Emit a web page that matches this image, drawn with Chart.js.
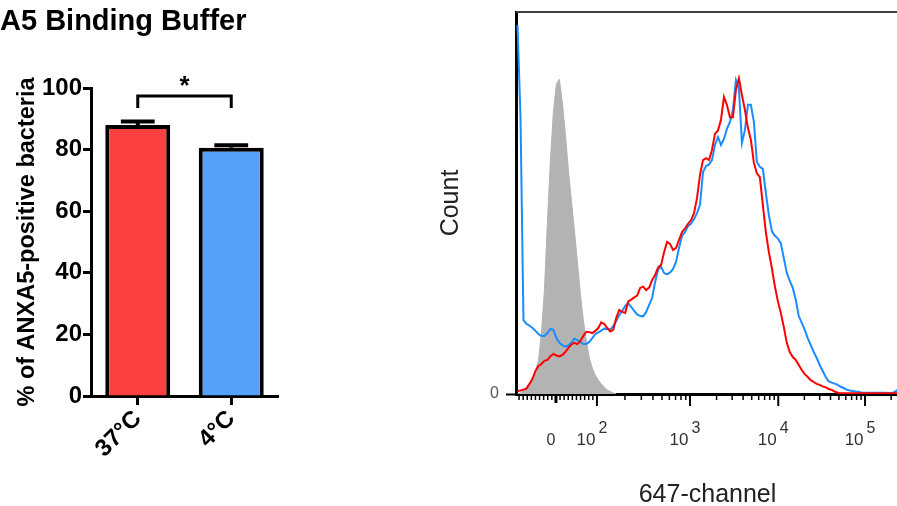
<!DOCTYPE html>
<html>
<head>
<meta charset="utf-8">
<script src="https://cdn.jsdelivr.net/npm/chart.js@4.4.1/dist/chart.umd.min.js"></script>
<style>
  html, body { margin: 0; padding: 0; background: #fff; }
  body { width: 897px; height: 506px; overflow: hidden; position: relative; }
  #barChart { position: absolute; left: 0; top: 0; }
  #histChart { position: absolute; left: 430px; top: 0; }
</style>
</head>
<body>
<canvas id="barChart" width="300" height="506"></canvas>
<canvas id="histChart" width="472" height="512"></canvas>
<script>
const FONT = "'Liberation Sans', Arial, Helvetica, sans-serif";

// ---- bar panel ----
const barTitle = "A5 Binding Buffer";
const groups = ["37°C", "4°C"];
const positivePct = [88.0, 80.6];
const positiveSem = [1.1, 0.8];
const barColors = ["#fa4040", "#55a0fa"];
const yTicksPct = [0, 20, 40, 60, 80, 100];
const sigLabel = "*";
const sigBracket = [97.4, 93.5];   // bracket bar level, leg ends

// ---- histogram panel (display channels, bins 2 channels wide, % of mode) ----
const channelStep = 2;
const isotypeCounts = [
  0, 0.3, 1.0, 2.2, 3.2, 4.4, 7.3, 10.5, 19.3, 32.9, 54.5, 74.1, 89.4, 98.2, 99.7, 92.2,
  82.4, 71.0, 61.5, 52.0, 42.1, 32.0, 23.4, 17.0, 11.4, 8.2, 6.0, 4.4, 3.2, 2.2, 1.3, 0.8,
  0.3, 0
];
const warmCounts = [   // 37°C
  0.95, 1.1, 1.4, 1.7, 3.2, 4.8, 7.3, 8.9, 9.5, 10.5, 10.8, 12.0, 12.7, 12.2, 11.9, 12.4,
  13.3, 14.6, 15.7, 16.2, 15.8, 16.8, 18.4, 19.7, 19.6, 19.3, 20.0, 20.9, 22.7, 22.2, 20.9, 19.8,
  20.3, 24.1, 26.6, 26.0, 25.7, 29.3, 29.9, 30.6, 31.2, 33.6, 34.0, 32.9, 33.7, 36.1, 37.7, 40.1,
  40.9, 45.0, 48.2, 47.5, 45.6, 46.3, 48.8, 51.3, 52.5, 53.9, 55.1, 57.3, 62.1, 69.4, 74.1, 74.7,
  74.1, 77.3, 82.4, 83.5, 86.8, 94.1, 91.5, 87.7, 87.7, 96.3, 100, 94.7, 90.0, 84.3, 80.5, 73.2,
  69.9, 68.7, 59.9, 51.3, 45.0, 39.9, 34.2, 29.5, 25.7, 21.2, 16.2, 13.3, 11.7, 10.8, 9.2, 7.6,
  6.3, 5.4, 4.4, 3.8, 3.2, 2.9, 2.4, 2.1, 1.6, 1.3, 0.8, 0.4, 0.2, 0.2, 0.2, 0.2,
  0.2, 0.2, 0.2, 0.2, 0.2, 0.2, 0.2, 0.2, 0.2, 0.2, 0.2, 0.2, 0.2, 0.2, 0.2, 0.2, 0.2
];
const coldCounts = [   // 4°C
  116.9, 87.8, 23.4, 22.2, 21.7, 20.9, 20.0, 19.0, 18.4, 18.4, 19.3, 20.6, 20.3, 17.7, 16.2, 15.5,
  15.0, 15.4, 16.2, 17.6, 17.1, 16.5, 15.8, 15.8, 16.5, 17.7, 19.0, 19.5, 20.1, 20.7, 20.6, 20.4,
  21.5, 23.1, 24.9, 26.3, 27.9, 28.7, 27.6, 26.3, 25.2, 24.7, 24.6, 26.0, 28.2, 30.4, 35.5, 39.4,
  40.3, 38.3, 37.9, 38.5, 39.6, 41.9, 46.3, 50.1, 51.3, 53.2, 53.9, 55.4, 57.3, 59.9, 70.3, 72.2,
  72.7, 74.1, 78.9, 81.4, 78.9, 80.8, 84.0, 86.2, 90.0, 99.5, 96.9, 79.5, 83.6, 91.6, 91.6, 86.2,
  73.5, 72.0, 71.3, 63.6, 56.7, 51.6, 50.1, 49.3, 47.8, 43.1, 38.3, 35.8, 33.6, 29.8, 24.7, 22.5,
  20.3, 17.7, 15.5, 13.3, 11.4, 9.2, 7.3, 5.4, 4.0, 3.6, 3.3, 2.9, 2.3, 1.9, 1.4, 1.1,
  0.95, 0.8, 0.7, 0.4, 0.4, 0.4, 0.4, 0.4, 0.4, 0.4, 0.4, 0.4, 0.3, 0.3, 0.6, 1.3, 1.6
];
// biexponential axis: where zero and each decade sit on the display channel scale
const zeroChannel = 26.7;
const decadeChannels = [54.1, 116.3, 175.3, 233.3];
const decadeExponents = ["2", "3", "4", "5"];

const toPoints = arr => arr.map((v, i) => ({ x: i * channelStep + channelStep / 2, y: v }));

// error bars (upper SEM) and the significance bracket
const errorBars = {
  id: 'errorBars',
  afterDatasetsDraw(chart) {
    const { ctx, scales: { y } } = chart;
    const bars = chart.getDatasetMeta(0).data;
    ctx.save();
    ctx.strokeStyle = '#000';
    ctx.lineWidth = 4;
    bars.forEach((bar, i) => {
      const top = y.getPixelForValue(positivePct[i] + positiveSem[i]);
      const half = bar.width * 0.26;
      ctx.beginPath();
      ctx.moveTo(bar.x, bar.y);
      ctx.lineTo(bar.x, top);
      ctx.moveTo(bar.x - half, top);
      ctx.lineTo(bar.x + half, top);
      ctx.stroke();
    });
    const x1 = bars[0].x, x2 = bars[1].x;
    const yb = y.getPixelForValue(sigBracket[0]);
    const yl = y.getPixelForValue(sigBracket[1]);
    ctx.lineWidth = 3;
    ctx.lineJoin = 'miter';
    ctx.beginPath();
    ctx.moveTo(x1, yl);
    ctx.lineTo(x1, yb);
    ctx.lineTo(x2, yb);
    ctx.lineTo(x2, yl);
    ctx.stroke();
    ctx.fillStyle = '#000';
    ctx.font = `bold 26px ${FONT}`;
    ctx.textAlign = 'center';
    ctx.textBaseline = 'alphabetic';
    ctx.fillText(sigLabel, (x1 + x2) / 2, yb - 2);
    ctx.restore();
  }
};

new Chart(document.getElementById('barChart'), {
  type: 'bar',
  data: {
    labels: groups,
    datasets: [{
      data: positivePct,
      backgroundColor: barColors,
      borderColor: '#000',
      borderWidth: 4,
      barPercentage: 0.695,
      categoryPercentage: 1
    }]
  },
  options: {
    responsive: false,
    animation: false,
    layout: { padding: { left: 0, right: 22, top: 0, bottom: 0 } },
    plugins: {
      legend: { display: false },
      tooltip: { enabled: false },
      title: {
        display: true,
        text: barTitle,
        align: 'start',
        color: '#000',
        font: { family: FONT, size: 29, weight: 'bold' },
        padding: { top: 5, bottom: 48.2 }
      }
    },
    scales: {
      x: {
        afterFit: s => { s.height = 110; },
        ticks: {
          color: '#000',
          font: { family: FONT, size: 24, weight: 'bold' },
          minRotation: 45, maxRotation: 45, padding: 0
        },
        grid: { offset: false, drawOnChartArea: false, tickLength: 9, tickWidth: 3, tickColor: '#000' },
        border: { color: '#000', width: 3 }
      },
      y: {
        min: 0, max: 100,
        afterFit: s => { s.width = 91; },
        afterBuildTicks: s => { s.ticks = yTicksPct.map(v => ({ value: v })); },
        ticks: { color: '#000', font: { family: FONT, size: 24, weight: 'bold' }, padding: 1 },
        grid: { drawOnChartArea: false, tickLength: 8, tickWidth: 3, tickColor: '#000' },
        border: { color: '#000', width: 3 },
        title: {
          display: true,
          text: '% of ANXA5-positive bacteria',
          color: '#000',
          font: { family: FONT, size: 23.5, weight: 'bold' },
          padding: { top: 13, bottom: 0 }
        }
      }
    }
  },
  plugins: [errorBars]
});

// logicle-style tick marks, decade labels and the top frame line
const flowAxis = {
  id: 'flowAxis',
  afterDraw(chart) {
    const { ctx, chartArea, scales: { x } } = chart;
    const base = chartArea.bottom + 1;
    const linSpan = decadeChannels[0] - zeroChannel;
    const marks = [];
    for (let k = -10; k <= 9; k++) {
      marks.push({ v: zeroChannel + k * linSpan / 10, len: k === 0 ? 8 : 5, w: k === 0 ? 3 : 1.5 });
    }
    decadeChannels.forEach((c, i) => {
      const next = i + 1 < decadeChannels.length ? decadeChannels[i + 1] : c + (c - decadeChannels[i - 1]);
      marks.push({ v: c, len: 11, w: 2 });
      for (let k = 2; k <= 9; k++) marks.push({ v: c + Math.log10(k) * (next - c), len: 5, w: 1.5 });
    });
    ctx.save();
    ctx.strokeStyle = '#000';
    marks.forEach(m => {
      if (m.v < x.min || m.v > x.max) return;
      const px = x.getPixelForValue(m.v);
      ctx.lineWidth = m.w;
      ctx.beginPath();
      ctx.moveTo(px, base);
      ctx.lineTo(px, base + m.len);
      ctx.stroke();
    });

    const labelY = chartArea.bottom + 51;
    ctx.fillStyle = '#333';
    ctx.textBaseline = 'alphabetic';
    ctx.textAlign = 'center';
    ctx.font = `16px ${FONT}`;
    ctx.fillText('0', x.getPixelForValue(zeroChannel) - 5, labelY);
    ctx.textAlign = 'left';
    decadeExponents.forEach((e, i) => {
      const px = x.getPixelForValue(decadeChannels[i]);
      ctx.font = `17px ${FONT}`;
      const baseW = ctx.measureText('10').width;
      ctx.font = `16px ${FONT}`;
      const supW = ctx.measureText(e).width;
      const left = px - 5 - (baseW + 3 + supW) / 2;
      ctx.font = `17px ${FONT}`;
      ctx.fillText('10', left, labelY);
      ctx.font = `16px ${FONT}`;
      ctx.fillText(e, left + baseW + 3, labelY - 12);
    });

    ctx.strokeStyle = '#404040';
    ctx.lineWidth = 2;
    ctx.beginPath();
    ctx.moveTo(chartArea.left, chartArea.top);
    ctx.lineTo(chartArea.right, chartArea.top);
    ctx.stroke();
    ctx.restore();
  }
};

new Chart(document.getElementById('histChart'), {
  type: 'line',
  data: {
    datasets: [
      { data: toPoints(warmCounts), borderColor: '#ff0000', borderWidth: 2, pointRadius: 0, fill: false, order: 0 },
      { data: toPoints(coldCounts), borderColor: '#1a8cff', borderWidth: 2, pointRadius: 0, fill: false, order: 1 },
      { data: toPoints(isotypeCounts), borderColor: '#b3b3b3', backgroundColor: '#b3b3b3', borderWidth: 1, pointRadius: 0, fill: 'origin', order: 2 }
    ]
  },
  options: {
    responsive: false,
    animation: false,
    layout: { padding: { left: 2, right: 3, top: 12, bottom: 0 } },
    plugins: { legend: { display: false }, tooltip: { enabled: false } },
    scales: {
      x: {
        type: 'linear', min: 0, max: 256,
        afterFit: s => { s.height = 118; },
        ticks: { display: false },
        grid: { drawOnChartArea: false, drawTicks: false },
        border: { color: '#000', width: 3 },
        title: {
          display: true, text: '647-channel', color: '#222',
          font: { family: FONT, size: 25 }, padding: { top: 0, bottom: 2 }
        }
      },
      y: {
        min: 0, max: 121,
        // the lone "0" label should not push the plot area down
        afterFit: s => { s.width = 84; s.paddingTop = 0; s.paddingBottom = 0; },
        afterBuildTicks: s => { s.ticks = [{ value: 0 }]; },
        ticks: { color: '#555', font: { family: FONT, size: 16 }, padding: 7 },
        grid: { drawOnChartArea: false, tickLength: 10, tickWidth: 2, tickColor: '#000' },
        border: { color: '#000', width: 3 },
        title: {
          display: true, text: 'Count', color: '#222',
          font: { family: FONT, size: 25 }, padding: { top: 4, bottom: 0 }
        }
      }
    }
  },
  plugins: [flowAxis]
});
</script>
</body>
</html>
